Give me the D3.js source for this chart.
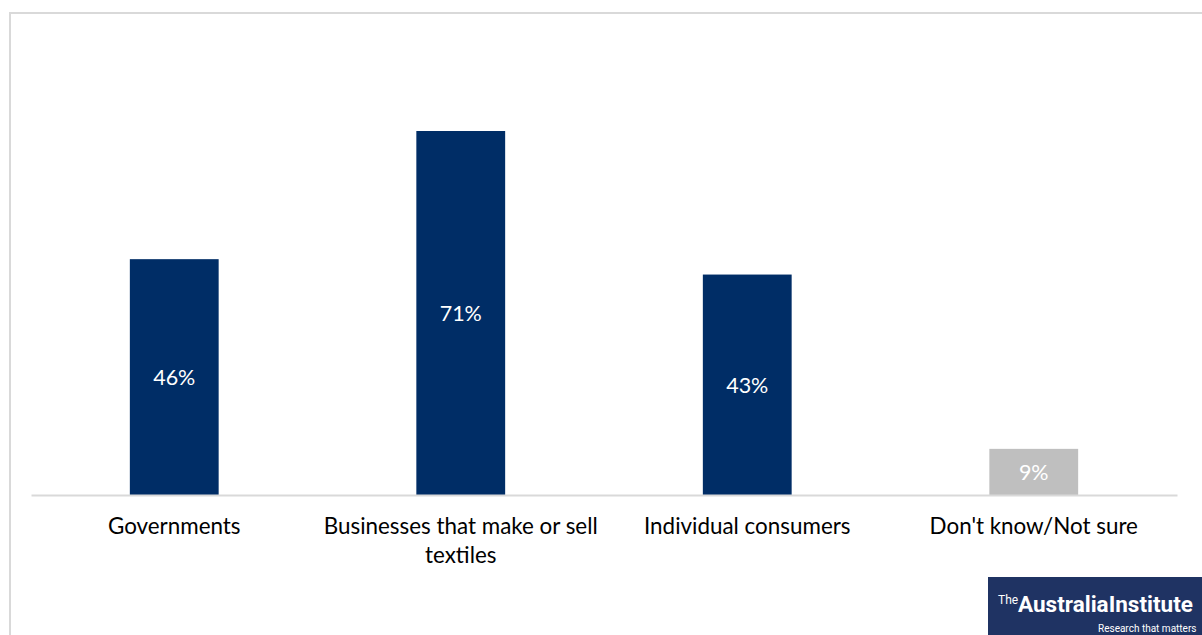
<!DOCTYPE html>
<html>
<head>
<meta charset="utf-8">
<script src="https://cdn.jsdelivr.net/npm/d3@7/dist/d3.min.js"></script>
<style>
  html, body { margin: 0; padding: 0; background: #fff; }
  svg { display: block; }
</style>
</head>
<body>
<svg id="chart" width="1202" height="635"></svg>
<script>
const categories = ["Governments", "Businesses that make or sell textiles", "Individual consumers", "Don't know/Not sure"];
const categoryLines = [["Governments"], ["Businesses that make or sell", "textiles"], ["Individual consumers"], ["Don't know/Not sure"]];
const values = [46, 71, 43, 9];
const valueLabels = ["46%", "71%", "43%", "9%"];

const svg = d3.select("#chart");
const W = 1202, H = 635;
const font = "Lato, 'Open Sans', sans-serif";

// frame
svg.append("rect")
  .attr("x", 10).attr("y", 13)
  .attr("width", W + 10).attr("height", H + 10)
  .attr("fill", "#fff").attr("stroke", "#d9d9d9").attr("stroke-width", 2);

const x = d3.scaleBand().domain(categories).range([31, 1177]).paddingInner(0.69).paddingOuter(0.345);
const y0 = 495;
const y = d3.scaleLinear().domain([0, 71]).range([y0, 131]);

const colors = ["#002d66", "#002d66", "#002d66", "#bfbfbf"];

svg.selectAll("rect.bar").data(values).join("rect")
  .attr("class", "bar")
  .attr("x", (d, i) => x(categories[i]))
  .attr("y", d => y(d))
  .attr("width", x.bandwidth())
  .attr("height", d => y0 - y(d))
  .attr("fill", (d, i) => colors[i]);

svg.selectAll("text.val").data(values).join("text")
  .attr("class", "val")
  .attr("x", (d, i) => x(categories[i]) + x.bandwidth() / 2)
  .attr("y", d => (y(d) + y0) / 2)
  .attr("dy", "0.38em")
  .attr("text-anchor", "middle")
  .attr("font-family", font)
  .attr("font-size", 21.5)
  .attr("fill", "#fff")
  .text((d, i) => valueLabels[i]);

// axis
const axis = d3.axisBottom(x).tickSize(0).tickFormat("");
const ag = svg.append("g").attr("transform", `translate(0,${y0})`).call(axis);
ag.select(".domain").attr("stroke", "#d9d9d9").attr("stroke-width", 2);

categories.forEach((c, i) => {
  const t = svg.append("text")
    .attr("x", x(c) + x.bandwidth() / 2)
    .attr("y", 534)
    .attr("text-anchor", "middle")
    .attr("font-family", font)
    .attr("font-size", 22.4)
    .attr("fill", "#000");
  categoryLines[i].forEach((ln, j) => {
    t.append("tspan").attr("x", x(c) + x.bandwidth() / 2).attr("y", 534 + j * 29).text(ln);
  });
});

// logo
const lg = svg.append("g").attr("transform", "translate(988,577)");
lg.append("rect").attr("width", 220).attr("height", 60).attr("fill", "#1f3363");
const logoFont = "'Liberation Sans Narrow', 'Roboto', sans-serif";
lg.append("text").attr("x", 10).attr("y", 27)
  .attr("font-family", logoFont).attr("font-size", 12).attr("fill", "#fff").text("The");
const main = lg.append("text").attr("x", 30).attr("y", 35)
  .attr("font-family", logoFont).attr("font-weight", "bold").attr("font-size", 25)
  .attr("fill", "#fff").text("AustraliaInstitute");
// fit to width
let fs = 25;
while (main.node().getComputedTextLength() > 176 && fs > 10) { fs -= 0.25; main.attr("font-size", fs); }
const sub = lg.append("text").attr("x", 110).attr("y", 55)
  .attr("font-family", logoFont).attr("font-size", 11).attr("fill", "#fff")
  .text("Research that matters");
let fs2 = 11;
while (sub.node().getComputedTextLength() > 100 && fs2 > 6) { fs2 -= 0.25; sub.attr("font-size", fs2); }
</script>
</body>
</html>
